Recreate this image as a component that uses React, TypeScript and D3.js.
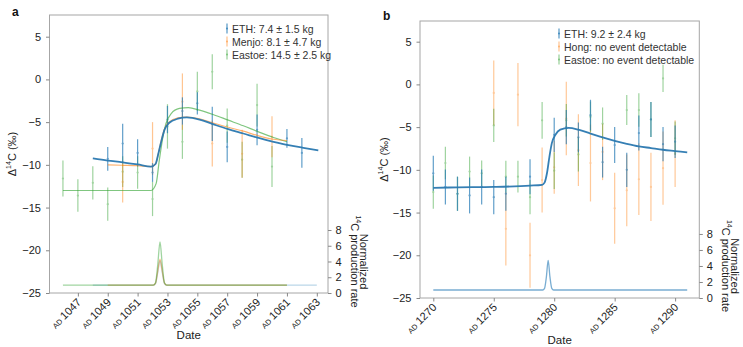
import { useEffect, useRef } from 'react';
import * as d3 from 'd3';

type Pt = [number, number, number];
type CurvePt = [number, number];

// ---- Panel a: Δ14C measurements [year, value, 1σ] ----
const ethA: Pt[] = [
  [1049, -9.3, 1.4], [1050, -7.5, 2.3], [1051, -8.6, 1.6], [1052, -10.9, 1.1],
  [1053, -4.7, 1.6], [1054, -3.7, 1.6], [1055, -2.8, 1.3], [1056, -5.2, 2.0],
  [1057, -7.9, 1.8], [1059, -5.9, 1.8], [1061, -6.9, 1.1], [1062, -8.6, 1.75],
];
const menjoA: Pt[] = [
  [1050, -12.0, 2.4], [1052, -8.1, 3.1], [1054, -2.6, 3.3], [1056, -7.5, 2.7],
  [1058, -8.7, 2.8], [1060, -6.7, 2.4],
];
const eastoeA: Pt[] = [
  [1046, -11.6, 2.1], [1047, -13.6, 1.9], [1048, -12.1, 1.95], [1049, -14.6, 1.95],
  [1050, -10.8, 1.8], [1051, -10.9, 1.9], [1052, -14.0, 2.0], [1053, -5.5, 2.6],
  [1054, -7.3, 2.0], [1055, -1.4, 2.3], [1056, 0.9, 2.05], [1057, -5.4, 2.0],
  [1058, -9.4, 2.1], [1059, -3.0, 2.5], [1060, -10.2, 2.4],
];

// model curves, panel a
const ethCurveA: CurvePt[] = [
  [1048, -9.25], [1049, -9.5], [1050, -9.7], [1051, -9.95], [1051.9, -10.2], [1052.2, -9.9],
  [1052.4, -8.6], [1052.55, -7.5], [1052.8, -5.9], [1053.1, -5.1], [1053.7, -4.6], [1054.3, -4.45],
  [1055.15, -4.7], [1056.05, -5.24], [1057.07, -5.83], [1058.08, -6.33], [1059.1, -6.85],
  [1060.1, -7.3], [1061.1, -7.7], [1062.1, -8.0], [1063.1, -8.3],
];
const menjoCurveA: CurvePt[] = [
  [1049, -10.0], [1050, -10.05], [1051, -10.1], [1051.9, -10.2], [1052.2, -9.9], [1052.4, -8.6],
  [1052.55, -7.4], [1052.8, -5.8], [1053.1, -5.0], [1053.7, -4.5], [1054.3, -4.4], [1055.15, -4.6],
  [1056.05, -5.1], [1057.07, -5.6], [1058.08, -6.06], [1059.1, -6.6], [1060.1, -7.0], [1061, -7.15],
];
const eastoeCurveA: CurvePt[] = [
  [1046, -13.0], [1048, -13.0], [1050, -13.0], [1051.9, -13.0], [1052.24, -12.2], [1052.45, -9.5],
  [1052.7, -6.7], [1052.9, -5.16], [1053.25, -4.0], [1053.8, -3.4], [1054.4, -3.3], [1055.15, -3.6],
  [1056.05, -4.1], [1057.07, -4.77], [1058.08, -5.43], [1059.1, -6.14], [1060.1, -6.8], [1061, -7.3],
];

// normalized production rate, panel a
const ethProdA: CurvePt[] = [
  [1048, 1], [1052.05, 1], [1052.2, 1.2], [1052.35, 2.6], [1052.5, 4.1], [1052.65, 2.6],
  [1052.8, 1.2], [1052.95, 1], [1063, 1],
];
const menjoProdA: CurvePt[] = [
  [1049, 1], [1052.05, 1], [1052.2, 1.25], [1052.35, 2.8], [1052.5, 4.3], [1052.65, 2.8],
  [1052.8, 1.25], [1052.95, 1], [1061, 1],
];
const eastoeProdA: CurvePt[] = [
  [1046, 1], [1052.05, 1], [1052.2, 1.3], [1052.35, 3.6], [1052.5, 6.5], [1052.65, 3.6],
  [1052.8, 1.3], [1052.95, 1], [1061, 1],
];

// ---- Panel b ----
const ethB: Pt[] = [
  [1270, -10.4, 2.05], [1271, -12.0, 2.05], [1272, -12.8, 2.0], [1273, -13.0, 2.1],
  [1274, -12.0, 2.05], [1275, -13.2, 2.0], [1276, -12.8, 2.0], [1278, -10.8, 2.05],
  [1280, -5.9, 2.0], [1281, -5.0, 2.0], [1282, -6.2, 1.75], [1283, -3.6, 1.8],
  [1284, -9.1, 1.8], [1285, -7.1, 2.1], [1286, -10.0, 2.0], [1287, -5.7, 2.05],
  [1288, -4.1, 2.05], [1289, -7.0, 2.0], [1290, -6.7, 1.9],
];
const hongB: Pt[] = [
  [1275, -1.0, 3.8], [1276, -16.9, 4.3], [1277, -1.2, 3.7], [1278, -20.0, 3.8],
  [1279, -11.2, 3.8], [1280, -9.7, 3.1], [1281, -4.0, 4.3], [1282, -7.7, 4.2],
  [1283, -9.2, 4.5], [1284, -7.9, 3.3], [1285, -14.5, 4.15], [1286, -12.4, 4.2],
  [1287, -11.1, 4.2], [1288, -12.0, 4.0], [1289, -9.8, 4.3], [1290, -8.1, 3.9],
];
const eastoeB: Pt[] = [
  [1270, -12.6, 1.95], [1271, -9.2, 1.9], [1272, -12.8, 2.0], [1273, -10.2, 1.75],
  [1274, -10.4, 1.5], [1275, -4.8, 1.95], [1276, -10.8, 1.85], [1277, -10.8, 1.85],
  [1278, -13.2, 2.0], [1279, -4.2, 2.15], [1280, -10.1, 2.15], [1281, -4.2, 1.9],
  [1282, -8.2, 2.0], [1283, -3.8, 1.8], [1284, -4.6, 1.9], [1286, -3.0, 1.75],
  [1287, -3.0, 1.95], [1288, -4.1, 2.05], [1289, 0.7, 1.6], [1290, -6.3, 1.95],
];
const ethCurveB: CurvePt[] = [
  [1270, -12.1], [1272, -12.05], [1275, -12.0], [1278, -11.85], [1279, -11.75], [1279.2, -11.5],
  [1279.4, -10.4], [1279.6, -8.5], [1279.8, -6.9], [1280.1, -5.9], [1280.5, -5.3], [1281.2, -5.1],
  [1282, -5.3], [1283, -5.75], [1284, -6.2], [1285, -6.6], [1286, -6.95], [1287, -7.25],
  [1288, -7.45], [1289, -7.65], [1290, -7.8], [1291, -7.95],
];
const ethProdB: CurvePt[] = [
  [1270, 1], [1279.05, 1], [1279.2, 1.2], [1279.35, 2.6], [1279.5, 4.7], [1279.65, 2.6],
  [1279.8, 1.2], [1279.95, 1], [1291, 1],
];

const yTicks = [-25, -20, -15, -10, -5, 0, 5];
const prodTicks = [0, 2, 4, 6, 8];
const xTicksA = [1047, 1049, 1051, 1053, 1055, 1057, 1059, 1061, 1063];
const xTicksB = [1270, 1275, 1280, 1285, 1290];

const BLUE = '#1f77b4';
const ORANGE = '#ff7f0e';
const GREEN = '#2ca02c';
const FONT = '"Liberation Sans", Arial, Helvetica, sans-serif';

interface Series {
  label: string;
  color: string;
  barOpacity: number;
  prodOpacity: number;
  points: Pt[];
  curve?: CurvePt[];
  prod?: CurvePt[];
  main?: boolean;
}

interface PanelSpec {
  letter: string;
  letterPos: [number, number];
  left: number; right: number; top: number; bottom: number;
  xDomain: [number, number];
  yDomain: [number, number];
  prodDomain: [number, number];
  xTicks: number[];
  legendPos: [number, number];
  yLabelX: number;
  series: Series[];      // drawing order
  legend: number[];      // indices into series, legend order
}

const panels: PanelSpec[] = [
  {
    letter: 'a', letterPos: [12, 16],
    left: 49.5, right: 328, top: 15, bottom: 293,
    xDomain: [1045.1, 1063.75], yDomain: [-25, 7.54], prodDomain: [0, 35.3],
    xTicks: xTicksA, legendPos: [227, 28.5], yLabelX: 13,
    series: [
      { label: 'Eastoe: 14.5 \u00b1 2.5 kg', color: GREEN, barOpacity: 0.45, prodOpacity: 0.45, points: eastoeA, curve: eastoeCurveA, prod: eastoeProdA },
      { label: 'Menjo: 8.1 \u00b1 4.7 kg', color: ORANGE, barOpacity: 0.45, prodOpacity: 0.45, points: menjoA, curve: menjoCurveA, prod: menjoProdA },
      { label: 'ETH: 7.4 \u00b1 1.5 kg', color: BLUE, barOpacity: 0.7, prodOpacity: 0.3, points: ethA, curve: ethCurveA, prod: ethProdA, main: true },
    ],
    legend: [2, 1, 0],
  },
  {
    letter: 'b', letterPos: [383, 20],
    left: 420, right: 699.3, top: 21, bottom: 298,
    xDomain: [1268.9, 1292.0], yDomain: [-25, 7.42], prodDomain: [0, 34.6],
    xTicks: xTicksB, legendPos: [559, 33.5], yLabelX: 385,
    series: [
      { label: 'Hong: no event detectable', color: ORANGE, barOpacity: 0.42, prodOpacity: 0.45, points: hongB },
      { label: 'Eastoe: no event detectable', color: GREEN, barOpacity: 0.45, prodOpacity: 0.45, points: eastoeB },
      { label: 'ETH: 9.2 \u00b1 2.4 kg', color: BLUE, barOpacity: 0.7, prodOpacity: 0.6, points: ethB, curve: ethCurveB, prod: ethProdB, main: true },
    ],
    legend: [2, 0, 1],
  },
];

function drawPanel(svg: d3.Selection<SVGSVGElement, unknown, null, undefined>, p: PanelSpec) {
  const g = svg.append('g').attr('font-family', FONT);
  const x = d3.scaleLinear().domain(p.xDomain).range([p.left, p.right]);
  const y = d3.scaleLinear().domain(p.yDomain).range([p.bottom, p.top]);
  const yp = d3.scaleLinear().domain(p.prodDomain).range([p.bottom, p.top]);

  // Frame
  g.append('rect')
    .attr('x', p.left).attr('y', p.top)
    .attr('width', p.right - p.left).attr('height', p.bottom - p.top)
    .attr('fill', 'none').attr('stroke', '#a6a6a6').attr('stroke-width', 1);

  // Left axis
  const la = g.append('g').attr('transform', `translate(${p.left},0)`)
    .call(d3.axisLeft(y).tickValues(yTicks).tickSize(3.5).tickPadding(5));
  // Right axis (production rate)
  const ra = g.append('g').attr('transform', `translate(${p.right},0)`)
    .call(d3.axisRight(yp).tickValues(prodTicks).tickSize(3.5).tickPadding(4));
  // Bottom axis
  const ba = g.append('g').attr('transform', `translate(0,${p.bottom})`)
    .call(d3.axisBottom(x).tickValues(p.xTicks).tickSize(3.5).tickFormat(() => ''));

  [la, ra, ba].forEach(ax => {
    ax.select('.domain').remove();
    ax.selectAll('line').attr('stroke', '#888');
    ax.selectAll('text').attr('fill', '#222').attr('font-size', 11).attr('font-family', FONT);
  });

  // Rotated year labels with small-caps AD
  p.xTicks.forEach(t => {
    const tx = g.append('text')
      .attr('transform', `translate(${x(t) + 4},${p.bottom + 10}) rotate(-45)`)
      .attr('text-anchor', 'end')
      .attr('fill', '#222');
    tx.append('tspan').attr('font-size', 7.5).text('AD');
    tx.append('tspan').attr('font-size', 11).text(`\u2009${t}`);
  });

  // Axis titles
  g.append('text')
    .attr('x', (p.left + p.right) / 2).attr('y', p.bottom + 46)
    .attr('text-anchor', 'middle').attr('font-size', 11.5).attr('fill', '#222')
    .text('Date');

  const yl = g.append('text')
    .attr('transform', `translate(${p.yLabelX},${(p.top + p.bottom) / 2}) rotate(-90)`)
    .attr('text-anchor', 'middle').attr('dominant-baseline', 'middle')
    .attr('font-size', 11).attr('fill', '#222');
  yl.append('tspan').text('\u0394');
  yl.append('tspan').attr('font-size', 7).attr('dy', -4).text('14');
  yl.append('tspan').attr('dy', 4).text('C (\u2030)');

  const prodMid = (yp(0) + yp(8)) / 2;
  g.append('text')
    .attr('transform', `translate(${p.right + 35},${prodMid}) rotate(90)`)
    .attr('text-anchor', 'middle').attr('dominant-baseline', 'middle')
    .attr('font-size', 11).attr('fill', '#222')
    .text('Normalized');
  const r2 = g.append('text')
    .attr('transform', `translate(${p.right + 26},${prodMid}) rotate(90)`)
    .attr('text-anchor', 'middle').attr('dominant-baseline', 'middle')
    .attr('font-size', 11).attr('fill', '#222');
  r2.append('tspan').attr('font-size', 7).attr('dy', -4).text('14');
  r2.append('tspan').attr('dy', 4).text('C production rate');

  // Panel letter
  g.append('text')
    .attr('x', p.letterPos[0]).attr('y', p.letterPos[1])
    .attr('font-size', 12).attr('font-weight', 'bold').attr('fill', '#111')
    .text(p.letter);

  const line = d3.line<CurvePt>()
    .x(d => x(d[0]))
    .y(d => y(d[1]))
    .curve(d3.curveMonotoneX);
  const prodLine = d3.line<CurvePt>()
    .x(d => x(d[0]))
    .y(d => yp(d[1]))
    .curve(d3.curveMonotoneX);

  // Error bars
  p.series.forEach(s => {
    const eb = g.append('g').attr('opacity', s.barOpacity);
    s.points.forEach(([yr, v, e]) => {
      eb.append('line')
        .attr('x1', x(yr)).attr('x2', x(yr))
        .attr('y1', y(v + e)).attr('y2', y(v - e))
        .attr('stroke', s.color).attr('stroke-width', 1.2);
      eb.append('circle')
        .attr('cx', x(yr)).attr('cy', y(v)).attr('r', 1.1)
        .attr('fill', s.color);
    });
  });

  // Production rate curves (ETH underneath)
  [...p.series].reverse().forEach(s => {
    if (!s.prod) return;
    g.append('path')
      .datum(s.prod)
      .attr('fill', 'none')
      .attr('stroke', s.color)
      .attr('stroke-width', 1.3)
      .attr('opacity', s.prodOpacity)
      .attr('d', prodLine);
  });

  // Model curves
  p.series.forEach(s => {
    if (!s.curve) return;
    g.append('path')
      .datum(s.curve)
      .attr('fill', 'none')
      .attr('stroke', s.main ? '#2a78b0' : s.color)
      .attr('stroke-width', s.main ? 1.8 : 1.2)
      .attr('opacity', s.main ? 0.95 : 0.6)
      .attr('d', line);
  });

  // Legend
  p.legend.forEach((idx, i) => {
    const s = p.series[idx];
    const cy = p.legendPos[1] + i * 13;
    const row = g.append('g');
    row.append('line')
      .attr('x1', p.legendPos[0]).attr('x2', p.legendPos[0])
      .attr('y1', cy - 5).attr('y2', cy + 5)
      .attr('stroke', s.color).attr('stroke-width', 1.3).attr('opacity', s.barOpacity);
    row.append('circle')
      .attr('cx', p.legendPos[0]).attr('cy', cy).attr('r', 1)
      .attr('fill', s.color).attr('opacity', s.barOpacity);
    row.append('text')
      .attr('x', p.legendPos[0] + 5).attr('y', cy + 4)
      .attr('font-size', 10.5).attr('fill', '#333')
      .text(s.label);
  });
}

export default function App() {
  const svgRef = useRef<SVGSVGElement>(null);

  useEffect(() => {
    if (!svgRef.current) return;
    const svg = d3.select(svgRef.current);
    svg.selectAll('*').remove();
    panels.forEach(p => drawPanel(svg, p));
  }, []);

  return (
    <svg
      ref={svgRef}
      width={743}
      height={347}
      style={{ position: 'absolute', left: 0, top: 0, background: '#fff' }}
    />
  );
}
